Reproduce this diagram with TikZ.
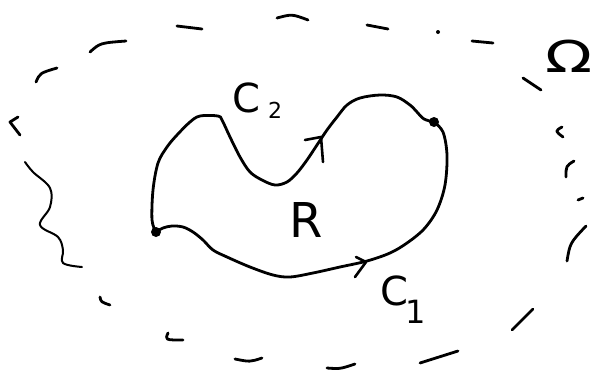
\documentclass[tikz,border=0pt]{standalone}
\usepackage{fontspec}
\setmainfont{DejaVu Sans}
\begin{document}
\begin{tikzpicture}[x=1pt, y=-1pt, line cap=round, line join=round,
  stroke/.style={line width=2.8pt},
  rim/.style={line width=2.8pt},
  barb/.style={line width=2.6pt},
  spot/.style={circle, fill, inner sep=0pt, minimum size=10pt},
  lab/.style={inner sep=0pt, anchor=base west}]

% Frame
\useasboundingbox (0,0) rectangle (611,381);

% End points
\node[spot] (lpt) at (156,232) {};
\node[spot] (rpt) at (434,122) {};

% Curve C2 (upper)
\draw[stroke] plot[smooth, tension=0.55] coordinates {(lpt.center) (152,220) (153,190)
  (158,163) (167,147) (177,135) (190,122) (200,116) (218,116) (222,120) (230,137)
  (240,157) (250,172) (262,180) (275,185) (287,182) (297,173) (307,160) (317,145)
  (327,130) (337,117) (347,105) (360,98) (380,95) (397,97) (410,105) (417,112)
  (424,119) (rpt.center)};
\draw[barb] (305,140) -- (321,137) -- (323,162);

% Curve C1 (lower)
\draw[stroke] plot[smooth, tension=0.55] coordinates {(lpt.center) (163,228) (172,226)
  (183,227) (193,232) (203,240) (213,250) (227,257) (250,267) (273,275) (290,277)
  (313,273) (340,267) (367,261) (390,253) (407,243) (424,229) (437,210) (445,185)
  (447,155) (443,132) (rpt.center)};
\draw[barb] (356,257) -- (366,262) -- (355,277);

% Outer boundary, broken
\draw[rim] (36,82) .. controls (40,73) .. (57,68);
\draw[rim] (90,52) .. controls (100,43) .. (126,41);
\draw[rim] (177,26) -- (202,29);
\draw[rim] (277,18) .. controls (292,14) .. (308,20);
\draw[rim] (367,25) -- (388,29);
\fill (438,32) circle (2pt);
\draw[rim] (472,41) -- (493,43);
\draw[rim] (523,78) -- (541,90);
\draw[rim] (562,127) .. controls (555,131) .. (563,137);
\draw[rim] (574,161) .. controls (566,166) .. (566,177);
\draw[rim] (578,200) -- (583,198);
\draw[rim] (586,226) .. controls (570,243) .. (567,261);
\draw[rim] (533,309) -- (512,330);
\draw[rim] (458,351) -- (420,363);
\draw[rim] (355,364) .. controls (340,369) .. (327,368);
\draw[rim] (262,358) .. controls (250,362) .. (235,359);
\draw[rim] (183,340) .. controls (165,340) .. (168,333);
\draw[rim] (110,305) .. controls (101,302) .. (100,297);
\draw[rim, line width=2pt] plot[smooth, tension=0.6] coordinates {(25,162) (33,172)
  (50,188) (50,207) (40,225) (58,237) (63,250) (63,263) (82,267)};
\draw[rim] (18,117) -- (10,122) -- (20,135);

% Labels
\node[lab] (rlab) at (289,237) {\fontsize{48}{48}\selectfont R};
\node[lab] (ctwo) at (232,112) {\fontsize{40}{40}\selectfont C\hspace{8pt}\raisebox{-6pt}{\fontsize{22}{22}\selectfont 2}};
\node[lab] (cone) at (380,305) {\fontsize{40}{40}\selectfont C\hspace{-3pt}\raisebox{-18pt}{\fontsize{32}{32}\selectfont 1}};
\node[lab, xscale=1.4] (omg) at (545,72) {\fontsize{44}{44}\selectfont Ω};

\end{tikzpicture}
\end{document}
